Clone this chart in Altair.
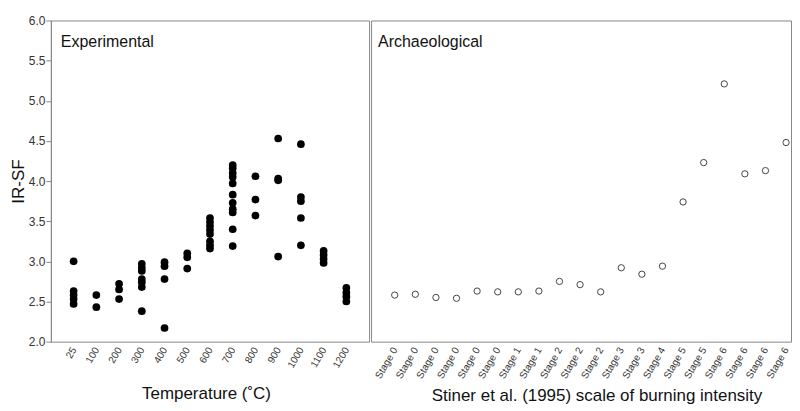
import json
import altair as alt
import pandas as pd

FONT = "Liberation Sans"

# ---- Experimental data (IR-SF by heating temperature) ----
temp_labels = ["25", "100", "200", "300", "400", "500", "600", "700", "800", "900", "1000", "1100", "1200"]
exp_25 = [3.00, 2.63, 2.58, 2.53, 2.47]
exp_100 = [2.58, 2.43]
exp_200 = [2.72, 2.65, 2.53]
exp_300 = [2.97, 2.92, 2.88, 2.78, 2.74, 2.68, 2.38]
exp_400 = [2.99, 2.94, 2.78, 2.17]
exp_500 = [3.10, 3.05, 2.91]
exp_600 = [3.54, 3.49, 3.44, 3.39, 3.34, 3.25, 3.20, 3.16]
exp_700 = [4.20, 4.16, 4.10, 4.05, 3.97, 3.83, 3.73, 3.65, 3.61, 3.40, 3.19]
exp_800 = [4.06, 3.77, 3.57]
exp_900 = [4.53, 4.03, 4.01, 3.06]
exp_1000 = [4.46, 3.80, 3.75, 3.54, 3.20]
exp_1100 = [3.13, 3.08, 3.03, 2.98]
exp_1200 = [2.67, 2.61, 2.56, 2.50]

# ---- Archaeological data ----
arch_labels = ["Stage 0", "Stage 0", "Stage 0", "Stage 0", "Stage 0", "Stage 0",
               "Stage 1", "Stage 1", "Stage 2", "Stage 2", "Stage 2", "Stage 3",
               "Stage 3", "Stage 4", "Stage 5", "Stage 5", "Stage 6", "Stage 6",
               "Stage 6", "Stage 6"]
arch_values = [2.58, 2.59, 2.55, 2.54, 2.63, 2.62, 2.62, 2.63, 2.75, 2.71,
               2.62, 2.92, 2.84, 2.94, 3.74, 4.23, 5.21, 4.09, 4.13, 4.48]

panel_titles = ["Experimental", "Archaeological"]
y_ticks = [2.0, 2.5, 3.0, 3.5, 4.0, 4.5, 5.0, 5.5, 6.0]

exp_groups = [exp_25, exp_100, exp_200, exp_300, exp_400, exp_500, exp_600,
              exp_700, exp_800, exp_900, exp_1000, exp_1100, exp_1200]
exp_rows = []
for t, vals in zip(temp_labels, exp_groups):
    for v in vals:
        exp_rows.append({"temp": t, "irsf": v})
exp_df = pd.DataFrame(exp_rows)

arch_df = pd.DataFrame({"idx": list(range(len(arch_values))),
                        "stage": arch_labels,
                        "irsf": arch_values})

H = 322
y_scale = alt.Scale(domain=[2, 6], nice=False, zero=False)


def panel_label(text, dx):
    return alt.Chart(pd.DataFrame({"label": [text]})).mark_text(
        align="left", baseline="alphabetic", fontSize=16, font=FONT, color="#111"
    ).encode(text="label:N", x=alt.value(dx), y=alt.value(27))


left_pts = alt.Chart(exp_df).mark_circle(size=60, color="black", opacity=1).encode(
    x=alt.X("temp:N", sort=temp_labels,
            scale=alt.Scale(type="point", padding=1.68),
            axis=alt.Axis(title="Temperature (˚C)", labelAngle=300, labelAlign="right",
                          labelBaseline="middle", labelPadding=6, ticks=False, domain=False,
                          labelFontSize=10, labelColor="#333", labelFont=FONT,
                          titleFont=FONT, titleFontSize=17, titleFontWeight="normal",
                          titleColor="#111", titleY=57, titleX=155.5,
                          titleBaseline="alphabetic", labelOverlap=False, grid=False)),
    y=alt.Y("irsf:Q", scale=y_scale,
            axis=alt.Axis(title="IR-SF", values=y_ticks, format=".1f", tickSize=5,
                          tickColor="#888", domainColor="#888", labelPadding=1,
                          labelFontSize=12, labelColor="#333", labelFont=FONT,
                          titleFont=FONT, titleFontSize=17, titleFontWeight="normal",
                          titleColor="#111", titlePadding=1, minExtent=0, grid=False)),
)

left = alt.layer(left_pts, panel_label(panel_titles[0], 10)).properties(width=319, height=H)

label_expr = json.dumps(arch_labels) + "[datum.value]"

right_pts = alt.Chart(arch_df).mark_point(shape="circle", size=40, filled=False,
                                          color="#444", strokeWidth=1, opacity=1).encode(
    x=alt.X("idx:Q", scale=alt.Scale(domain=[-1.148, 19.24], nice=False, zero=False),
            axis=alt.Axis(title="Stiner et al. (1995) scale of burning intensity",
                          values=list(range(len(arch_labels))), labelExpr=label_expr,
                          labelAngle=300, labelAlign="right", labelBaseline="middle",
                          labelPadding=6, ticks=False, domain=False, labelFlush=False,
                          labelOverlap=False, labelFontSize=10, labelColor="#333",
                          labelFont=FONT, titleFont=FONT, titleFontSize=17,
                          titleFontWeight="normal", titleColor="#111", titleY=59,
                          titleX=226, titleBaseline="alphabetic", grid=False)),
    y=alt.Y("irsf:Q", scale=y_scale, axis=None),
)

right = alt.layer(right_pts, panel_label(panel_titles[1], 7)).properties(width=421, height=H)

chart = alt.hconcat(left, right, spacing=0).properties(
    padding={"left": 0, "top": 5, "right": 0, "bottom": 0},
    background="white",
).configure_view(stroke="#888", strokeWidth=1)

chart.save("out.html", embed_options={"renderer": "svg", "actions": False})
